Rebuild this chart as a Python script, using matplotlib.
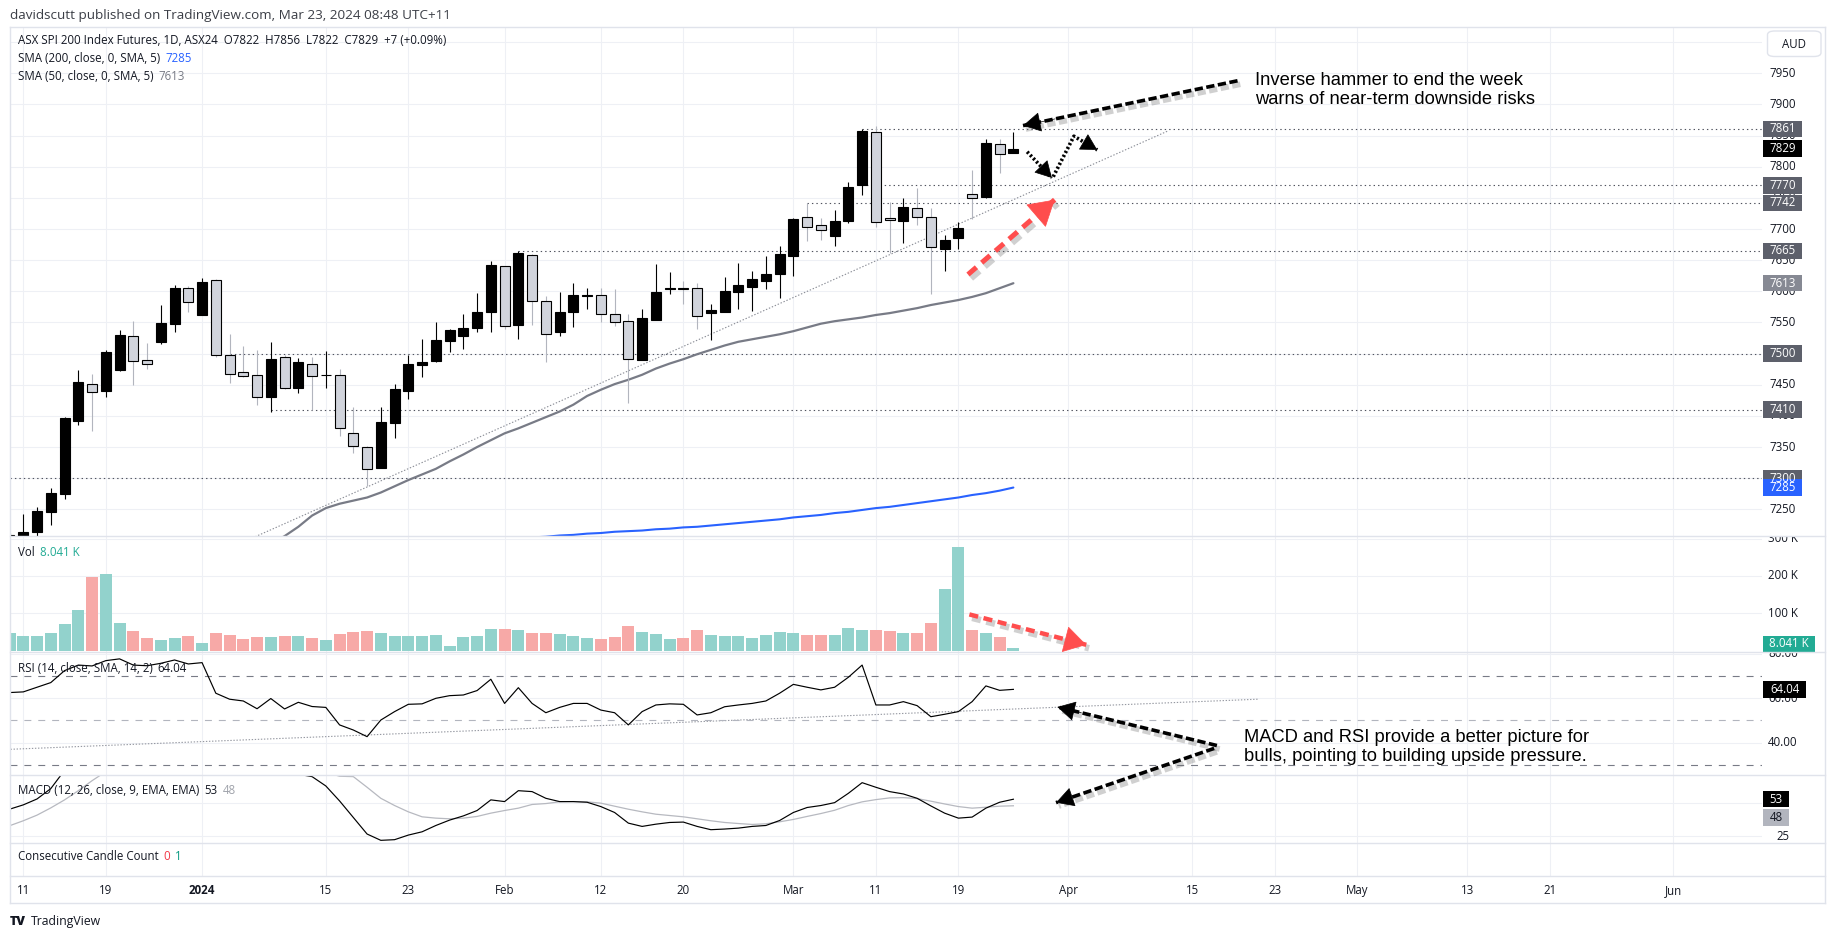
import matplotlib
matplotlib.use("Agg")
import matplotlib.pyplot as plt
import matplotlib.transforms as mtransforms
import matplotlib.patheffects as pe
from matplotlib.patches import Rectangle, FancyBboxPatch, FancyArrowPatch
from matplotlib.lines import Line2D

plt.rcParams['font.family'] = ['Open Sans', 'DejaVu Sans']
plt.rcParams['lines.scale_dashes'] = False

# ---------------- data ----------------
bar_index = list(range(-1, 73))
opens = [7170, 7200, 7214, 7246, 7274, 7392, 7451, 7440, 7473, 7529, 7490, 7518, 7548, 7605, 7562,
         7618, 7497, 7470, 7465, 7431, 7494, 7445, 7483, 7465, 7465, 7372, 7350, 7317, 7388, 7440,
         7482, 7488, 7521, 7528, 7541, 7567, 7640, 7546, 7659, 7584, 7534, 7566, 7593, 7594, 7563,
         7552, 7490, 7554, 7603, 7606, 7605, 7565, 7567, 7599, 7607, 7617, 7627, 7656, 7720, 7706,
         7689, 7713, 7770, 7855, 7717, 7713, 7733, 7720, 7668, 7685, 7757, 7751, 7836, 7822]
highs = [7212, 7243, 7254, 7284, 7398, 7474, 7468, 7506, 7538, 7552, 7517, 7578, 7610, 7609, 7621,
         7619, 7531, 7513, 7505, 7519, 7498, 7493, 7495, 7504, 7475, 7415, 7352, 7415, 7452, 7498,
         7524, 7551, 7539, 7564, 7597, 7649, 7641, 7665, 7660, 7592, 7599, 7614, 7605, 7605, 7604,
         7564, 7572, 7644, 7631, 7616, 7613, 7580, 7623, 7646, 7633, 7657, 7672, 7717, 7741, 7718,
         7730, 7775, 7860, 7865, 7743, 7749, 7766, 7734, 7690, 7711, 7795, 7844, 7845, 7856]
lows = [7150, 7195, 7205, 7225, 7267, 7386, 7376, 7431, 7472, 7450, 7476, 7516, 7535, 7566, 7562,
        7495, 7453, 7463, 7418, 7407, 7443, 7437, 7409, 7445, 7368, 7341, 7288, 7317, 7365, 7427,
        7463, 7486, 7503, 7508, 7534, 7534, 7539, 7523, 7546, 7487, 7529, 7543, 7572, 7551, 7545,
        7421, 7489, 7554, 7595, 7580, 7540, 7522, 7567, 7572, 7569, 7604, 7589, 7624, 7681, 7682,
        7672, 7710, 7755, 7704, 7661, 7678, 7707, 7595, 7633, 7668, 7716, 7750, 7790, 7822]
closes = [7209, 7214, 7247, 7276, 7397, 7454, 7438, 7503, 7530, 7488, 7484, 7549, 7605, 7583, 7615,
          7497, 7468, 7464, 7430, 7491, 7444, 7487, 7464, 7466, 7380, 7351, 7314, 7391, 7443, 7483,
          7486, 7522, 7538, 7541, 7567, 7642, 7545, 7661, 7585, 7531, 7567, 7594, 7594, 7563, 7550,
          7492, 7557, 7599, 7606, 7603, 7560, 7570, 7600, 7610, 7620, 7628, 7660, 7716, 7704, 7698,
          7713, 7767, 7857, 7712, 7714, 7735, 7720, 7671, 7682, 7702, 7749, 7838, 7820, 7829]
volumes_k = [48, 40, 40, 48, 72, 110, 198, 204, 75, 53, 34, 29, 34, 40, 21, 48, 42, 32, 37, 37,
             40, 40, 34, 29, 45, 50, 53, 48, 40, 40, 40, 42, 13, 37, 40, 59, 59, 56, 48, 48,
             45, 40, 34, 32, 37, 67, 50, 45, 32, 34, 56, 42, 40, 40, 34, 42, 50, 48, 42, 42,
             42, 61, 56, 56, 53, 48, 48, 75, 164, 277, 56, 48, 37, 8.041]
rsi_values = [62.6, 62.9, 65.0, 67.1, 72.5, 75.0, 74.6, 77.0, 77.8, 75.0, 74.7, 75.8, 77.3, 75.5, 76.1,
              62.3, 59.6, 58.8, 55.3, 59.9, 55.2, 58.2, 56.3, 55.9, 48.0, 45.7, 42.7, 50.2, 54.0, 57.3,
              57.5, 60.0, 61.2, 61.5, 63.5, 68.6, 57.7, 64.8, 57.7, 53.5, 55.9, 57.7, 57.7, 54.7, 53.5,
              48.0, 54.0, 57.0, 57.5, 57.3, 52.5, 53.5, 56.2, 57.0, 57.7, 58.8, 62.3, 66.3, 65.0, 63.8,
              65.0, 69.5, 75.0, 57.0, 57.0, 58.5, 56.7, 51.7, 52.8, 54.0, 58.5, 65.6, 63.6, 64.04]
macd_values = [45.4, 48.7, 53.2, 61.1, 75, 82, 87, 92, 97, 99, 100, 101, 103, 102, 103,
               97, 90, 84, 79, 76, 75, 72, 70.2, 63.1, 51.7, 39.1, 26.5, 21.7, 22.2, 25.7,
               28.2, 33.0, 37.1, 40.3, 44.4, 52.5, 51.2, 59.5, 58.8, 53.7, 51.2, 51.2, 50.7, 47.4, 42.9,
               34.8, 32.3, 34.0, 35.3, 35.6, 32.3, 29.8, 30.3, 31.0, 32.3, 33.0, 36.8, 42.9, 46.7, 48.2,
               50.4, 57.5, 65.6, 62.1, 58.8, 57.0, 53.7, 47.9, 42.4, 38.6, 39.4, 46.2, 50.7, 53.0]
signal_values = [32.8, 36.6, 40.9, 46.4, 52.5, 59.5, 67.1, 74, 80, 85, 89, 92, 94, 95, 95,
                 94, 94, 92, 89, 86, 83, 80, 77, 73.5, 70.5, 70.2, 62.1, 53.7, 48.2, 43.4,
                 39.6, 38.6, 38.1, 38.6, 39.9, 42.4, 44.4, 46.2, 49.0, 49.7, 51.0, 51.2, 51.0, 50.0, 47.7,
                 45.4, 43.4, 41.6, 40.6, 39.6, 38.1, 36.6, 35.3, 34.5, 33.8, 34.3, 35.8, 37.6, 39.9, 42.1,
                 44.6, 48.2, 51.0, 52.7, 54.0, 54.2, 53.5, 51.5, 49.4, 47.4, 46.2, 46.9, 47.7, 48.0]
sma50_index = list(range(18, 73))
sma50_values = [7195, 7207, 7222, 7240, 7252, 7259, 7264, 7269, 7277, 7287, 7297, 7306, 7315, 7327,
                7338, 7350, 7361, 7372, 7380, 7389, 7398, 7407, 7418, 7432, 7442, 7451, 7458, 7466,
                7476, 7484, 7491, 7499, 7506, 7513, 7519, 7523, 7527, 7531, 7536, 7542, 7548, 7552,
                7555, 7558, 7562, 7565, 7569, 7573, 7578, 7582, 7586, 7591, 7597, 7605, 7613]
sma200_index = list(range(36, 73))
sma200_values = [7203, 7205, 7206, 7208, 7209, 7211, 7212, 7214, 7215, 7216, 7218, 7219, 7221, 7222,
                 7224, 7226, 7228, 7230, 7232, 7234, 7237, 7239, 7241, 7244, 7246, 7249, 7252, 7254,
                 7257, 7260, 7263, 7266, 7269, 7273, 7276, 7280, 7285]
tick_index = [0, 6, 13, 22, 28, 35, 42, 48, 56, 62, 68, 76, 85, 91, 97, 105, 111, 120]
tick_labels = ['11', '19', '2024', '15', '23', 'Feb', '12', '20', 'Mar', '11', '19',
               'Apr', '15', '23', 'May', '13', '21', 'Jun']
level_prices = [7861, 7770, 7742, 7665, 7500, 7410, 7300]
level_start = [61, 61, 57, 36, 15, 18, -1]
trend_x = [-0.97, 83.3]
trend_y = [7031, 7858]
rsi_trend_x = [-0.93, 89.8]
rsi_trend_y = [37.0, 59.6]

# ---------------- layout ----------------
W, H = 1835, 939
fig = plt.figure(figsize=(W / 100, H / 100), dpi=100)
fig.patch.set_facecolor('white')
LEFT, RIGHT, SCALE_R = 10, 1762, 1825
XLIM = (-0.967, 126.44)
GRID = '#eef0f5'
FRAME = '#e0e3eb'
TXT = '#131722'
FS = 8.3


def axes_px(x0, y0, x1, y1):
    a = fig.add_axes([x0 / W, 1 - y1 / H, (x1 - x0) / W, (y1 - y0) / H])
    a.set_axis_off()
    return a


panes = {}
scales = {}
for name, y0, y1, ylim in [('main', 27, 536, (7207.2, 8024.3)),
                           ('vol', 536, 652, (-3.75, 307.2)),
                           ('rsi', 652, 775, (25.4, 80.9)),
                           ('macd', 775, 842.7, (19.9, 71.44)),
                           ('ccc', 842.7, 876, (0, 1))]:
    a = axes_px(LEFT, y0, RIGHT, y1)
    a.set_xlim(*XLIM)
    a.set_ylim(*ylim)
    for t in tick_index:
        a.axvline(t, color=GRID, lw=0.8, zorder=0)
    s = axes_px(RIGHT, y0, SCALE_R, y1)
    s.set_xlim(0, 1)
    s.set_ylim(*ylim)
    panes[name] = a
    scales[name] = s

ax, axv, axr, axm = panes['main'], panes['vol'], panes['rsi'], panes['macd']

for v in range(7250, 8001, 50):
    ax.axhline(v, color=GRID, lw=0.8, zorder=0)
for v in [100, 200, 300]:
    axv.axhline(v, color=GRID, lw=0.8, zorder=0)
for v in [40, 60, 80]:
    axr.axhline(v, color=GRID, lw=0.8, zorder=0)
for v in [25, 50]:
    axm.axhline(v, color=GRID, lw=0.8, zorder=0)


def hline_px(y, x0=LEFT, x1=SCALE_R, color=FRAME, lw=1.0):
    fig.add_artist(Line2D([x0 / W, x1 / W], [1 - y / H, 1 - y / H], color=color, lw=lw,
                          transform=fig.transFigure, zorder=10))


def vline_px(x, y0, y1, color=FRAME, lw=1.0):
    fig.add_artist(Line2D([x / W, x / W], [1 - y0 / H, 1 - y1 / H], color=color, lw=lw,
                          transform=fig.transFigure, zorder=10))


for y in [27, 536, 652, 775, 842.7, 876, 903]:
    hline_px(y)
vline_px(LEFT, 27, 903)
vline_px(SCALE_R, 27, 903)

# ---------------- main pane ----------------
for p, s0 in zip(level_prices, level_start):
    ax.plot([s0, XLIM[1]], [p, p], color='#50535e', lw=0.8, ls=(0, (1, 2.2)), zorder=1)
ax.plot(trend_x, trend_y, color='#8a8d96', lw=0.8, ls=(0, (1, 1.3)), zorder=1.5)
ax.plot(sma50_index, sma50_values, color='#787b86', lw=1.6, zorder=2, solid_capstyle='round')
ax.plot(sma200_index, sma200_values, color='#2962ff', lw=1.5, zorder=2, solid_capstyle='round')

for x, o, h, l, c in zip(bar_index, opens, highs, lows, closes):
    up = c >= o
    ax.vlines(x, l, h, color='black' if up else '#b2b5be', lw=0.8, zorder=3)
    bottom = min(o, c)
    height = max(abs(c - o), 1.0)
    ax.add_patch(Rectangle((x - 0.36, bottom), 0.72, height,
                           facecolor='black' if up else '#d1d4dc',
                           edgecolor='black', lw=0.8, zorder=4))

# ---------------- volume ----------------
vcolors = ['#92d2cc' if c >= o else '#f7a9a7' for o, c in zip(opens, closes)]
axv.bar(bar_index, volumes_k, width=0.88, color=vcolors, zorder=2)

# ---------------- RSI ----------------
axr.plot(rsi_trend_x, rsi_trend_y, color='#9598a1', lw=0.8, ls=(0, (1, 1.2)), zorder=1)
axr.axhline(70, color='#787b86', lw=0.8, ls=(0, (5, 5)), zorder=1)
axr.axhline(50, color='#b2b5be', lw=0.8, ls=(0, (5, 5)), zorder=1)
axr.axhline(30, color='#787b86', lw=0.8, ls=(0, (5, 5)), zorder=3)
axr.plot(bar_index, rsi_values, color='black', lw=0.85, zorder=2)

# ---------------- MACD ----------------
axm.plot(bar_index, signal_values, color='#b7b9c0', lw=0.9, zorder=2)
axm.plot(bar_index, macd_values, color='black', lw=0.85, zorder=3)


# ---------------- scale labels ----------------
def blend(a):
    return mtransforms.blended_transform_factory(a.transAxes, a.transData)


def scale_text(name, value, text):
    s = scales[name]
    s.text(0.33, value, text, transform=blend(s), ha='center', va='center',
           color=TXT, fontsize=FS, clip_on=True, zorder=2)


def scale_box(name, value, text, fc, tc, width_px=39.3, h_px=16.4):
    s = scales[name]
    y0, y1 = s.get_ylim()
    upp = (y1 - y0) / (s.get_position().height * H)
    wfrac = width_px / (s.get_position().width * W)
    x0 = 0.8 / (s.get_position().width * W)
    s.add_patch(Rectangle((x0, value - h_px / 2 * upp), wfrac, h_px * upp, transform=blend(s),
                          facecolor=fc, edgecolor='none', zorder=5, clip_on=False))
    s.text(x0 + wfrac / 2, value, text, transform=blend(s), ha='center', va='center',
           color=tc, fontsize=FS, zorder=6, clip_on=False)


for v in range(7250, 8001, 50):
    scale_text('main', v, str(v))
for p in level_prices:
    scale_box('main', p, str(p), '#5d606b', 'white')
scale_box('main', 7613, '7613', '#868993', 'white')
scale_box('main', 7829, '7829', '#000000', 'white')
scale_box('main', 7285, '7285', '#2962ff', 'white')
for v, t in [(300, '300 K'), (200, '200 K'), (100, '100 K')]:
    scale_text('vol', v, t)
scale_box('vol', 18, '8.041 K', '#22ab94', 'white', width_px=52.5)
for v in [80, 60, 40]:
    scale_text('rsi', v, '%.2f' % v)
scale_box('rsi', 64.04, '64.04', '#000000', 'white', width_px=43.5)
for v in [25, 50]:
    scale_text('macd', v, str(v))
scale_box('macd', 53, '53', '#000000', 'white', width_px=26.5)
scale_box('macd', 39.1, '48', '#b2b5be', TXT, width_px=26.5)

aud = FancyBboxPatch((1767.5 / W, 1 - 56.5 / H), 53.5 / W, 25.5 / H,
                     boxstyle='round,pad=0,rounding_size=0.004', transform=fig.transFigure,
                     facecolor='white', edgecolor=FRAME, lw=1.0, zorder=11)
fig.add_artist(aud)
fig.text(1794 / W, 1 - 44 / H, 'AUD', ha='center', va='center', fontsize=FS, color=TXT, zorder=12)

# ---------------- time axis ----------------
tax = axes_px(LEFT, 876, RIGHT, 903)
tax.set_xlim(*XLIM)
tax.set_ylim(0, 1)
for t, lab in zip(tick_index, tick_labels):
    tax.text(t, 0.45, lab, ha='center', va='center', fontsize=FS, color=TXT,
             fontweight='bold' if lab == '2024' else 'normal')

# ---------------- header & legends ----------------
renderer = fig.canvas.get_renderer()


def text_run(x, y, parts, fs=FS, gap=5):
    cur = x
    for s, col in parts:
        t = fig.text(cur / W, 1 - y / H, s, color=col, fontsize=fs, va='center', ha='left', zorder=12)
        cur += t.get_window_extent(renderer).width + gap


text_run(10, 15, [('davidscutt published on TradingView.com, Mar 23, 2024 08:48 UTC+11', '#3b3e46')], fs=9.7)
text_run(18, 40, [('ASX SPI 200 Index Futures, 1D, ASX24  O7822  H7856  L7822  C7829  +7 (+0.09%)', TXT)])
text_run(18, 59, [('SMA (200, close, 0, SMA, 5)', TXT), ('7285', '#2962ff')])
text_run(18, 76, [('SMA (50, close, 0, SMA, 5)', TXT), ('7613', '#787b86')])
text_run(18, 553, [('Vol', TXT), ('8.041 K', '#22ab94')])
text_run(18, 668, [('RSI (14, close, SMA, 14, 2)', TXT), ('64.04', TXT)])
text_run(18, 791, [('MACD (12, 26, close, 9, EMA, EMA)', TXT), ('53', TXT), ('48', '#a0a3ab')])
text_run(18, 857, [('Consecutive Candle Count', TXT), ('0', '#f23645'), ('1', '#089981')])

fig.text(10 / W, 1 - 922 / H, 'TV', fontsize=9, fontweight='heavy', color=TXT, va='center', ha='left')
fig.text(31 / W, 1 - 922 / H, 'TradingView', fontsize=8.8, color=TXT, va='center', ha='left')

# ---------------- annotations ----------------
ANN_FONT = ['Liberation Sans', 'DejaVu Sans']


def shadow(lw):
    return [pe.SimpleLineShadow(offset=(2, -2.5), shadow_color='#666666', alpha=0.3,
                                linewidth=lw + 1.5), pe.Normal()]


def to_fig(a, xy):
    d = a.transData.transform(xy)
    return d[0] / W, d[1] / H


def arrow(points, color, lw, dashes, head=True, ms=14, hl=0.9, hw=0.5, use_shadow=True):
    """points: list of (axes, (x, y)); drawn as a dashed polyline with an arrow head at the end."""
    pts = [to_fig(a, xy) for a, xy in points]
    xs = [p[0] for p in pts]
    ys = [p[1] for p in pts]
    fig.add_artist(Line2D(xs, ys, color=color, lw=lw, ls=(0, dashes), transform=fig.transFigure,
                          solid_capstyle='butt', dash_capstyle='butt', zorder=20,
                          path_effects=shadow(lw) if use_shadow else None))
    if head:
        (x0, y0), (x1, y1) = pts[-2], pts[-1]
        f = 0.85
        near = (x0 + (x1 - x0) * f, y0 + (y1 - y0) * f)
        fig.add_artist(FancyArrowPatch(near, (x1, y1), transform=fig.transFigure,
                                       arrowstyle='-|>,head_length=%g,head_width=%g' % (hl, hw),
                                       mutation_scale=ms, color=color, lw=0.5,
                                       shrinkA=0, shrinkB=0, zorder=21))


ax.text(89.6, 7923, 'Inverse hammer to end the week\nwarns of near-term downside risks',
        fontsize=13.2, family=ANN_FONT, color='black', va='center', ha='left',
        linespacing=1.2, zorder=20, clip_on=False)
arrow([(ax, (88.3, 7938)), (ax, (72.7, 7866))], 'black', 2.6, (6, 2.5), ms=13)

arrow([(ax, (73.0, 7824)), (ax, (74.8, 7782))], 'black', 2.6, (1.6, 1.6), ms=12, use_shadow=False)
arrow([(ax, (74.9, 7784)), (ax, (76.4, 7849)), (ax, (78.1, 7827))], 'black', 2.6, (1.6, 1.6),
      ms=12, use_shadow=False)

arrow([(ax, (68.7, 7627)), (ax, (75.0, 7747))], '#ff4d4d', 3.6, (8, 5), ms=17, hl=1.0, hw=0.6)
arrow([(axv, (68.8, 97)), (axv, (77.3, 15.5))], '#ff4d4d', 3.2, (6.5, 4), ms=15, hl=1.0, hw=0.6)

axr.text(88.8, 38.0, 'MACD and RSI provide a better picture for\nbulls, pointing to building upside pressure.',
         fontsize=13.2, family=ANN_FONT, color='black', va='center', ha='left',
         linespacing=1.15, zorder=1.5, clip_on=False)
arrow([(axr, (86.8, 38.7)), (axr, (75.2, 56.1))], 'black', 2.6, (6, 2.5), ms=13)
arrow([(axr, (86.6, 37.4)), (axm, (75.1, 50.4))], 'black', 2.6, (6, 2.5), ms=13)

fig.savefig('out.png', dpi=100, facecolor='white')
